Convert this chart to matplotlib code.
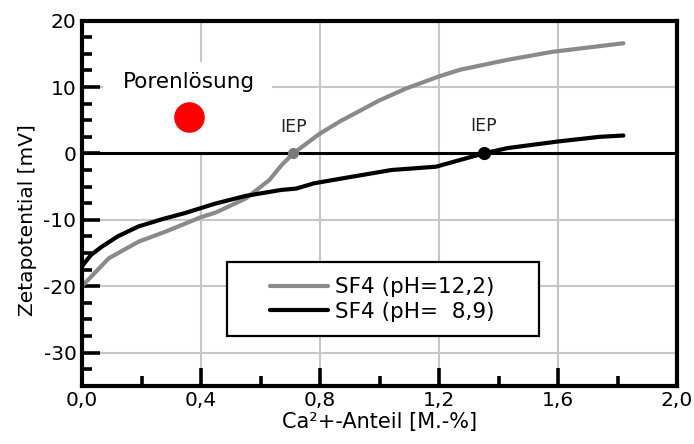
import matplotlib
matplotlib.use("Agg")
import matplotlib.pyplot as plt
from matplotlib.patches import Rectangle
from matplotlib.ticker import MultipleLocator, FuncFormatter

plt.rcParams['font.family'] = ['DejaVu Sans']

# pH 12.2 series (gray)
x_ph122 = [0.00, 0.09, 0.19, 0.28, 0.40, 0.45, 0.55, 0.63, 0.67, 0.71, 0.80, 0.87,
           1.00, 1.09, 1.20, 1.27, 1.43, 1.58, 1.82]
y_ph122 = [-20.0, -15.8, -13.3, -11.8, -9.6, -8.9, -6.8, -4.0, -1.8, 0.0, 3.0, 4.9,
           8.0, 9.8, 11.6, 12.6, 14.1, 15.3, 16.6]

# pH 8.9 series (black)
x_ph89 = [0.00, 0.03, 0.065, 0.12, 0.19, 0.27, 0.345, 0.445, 0.55, 0.67, 0.72, 0.78,
          0.87, 1.04, 1.19, 1.27, 1.35, 1.43, 1.60, 1.74, 1.82]
y_ph89 = [-17.0, -15.3, -14.1, -12.5, -11.0, -9.9, -9.0, -7.6, -6.4, -5.5, -5.3, -4.5,
          -3.8, -2.5, -2.0, -1.0, 0.0, 0.8, 1.8, 2.5, 2.7]

iep_x = [0.71, 1.35]
iep_y = [0.0, 0.0]
pore_x = [0.36]
pore_y = [5.5]

labels = ["SF4 (pH=12,2)", "SF4 (pH=  8,9)"]
x_ticks = [0.0, 0.4, 0.8, 1.2, 1.6, 2.0]
y_ticks = [-30, -20, -10, 0, 10, 20]

fig = plt.figure(figsize=(6.94, 4.44), dpi=100)
ax = fig.add_axes([0.1182, 0.1313, 0.8573, 0.8221])

ax.set_xlim(0, 2.0)
ax.set_ylim(-35, 20)

# grid
for xv in [0.4, 0.8, 1.2, 1.6]:
    ax.axvline(xv, color='#c6c6c6', lw=1.5, zorder=0.5)
for yv in [10, -10, -20, -30]:
    ax.axhline(yv, color='#c6c6c6', lw=1.5, zorder=0.5)

# white box behind annotation
ax.add_patch(Rectangle((0.07, 0.0), 0.57, 13.8, facecolor='white', edgecolor='none', zorder=0.8))

ax.axhline(0, color='black', lw=2.2, zorder=2)

l1, = ax.plot(x_ph122, y_ph122, color='#8a8a8a', lw=3.0, zorder=3,
              solid_capstyle='round', solid_joinstyle='round')
l2, = ax.plot(x_ph89, y_ph89, color='black', lw=3.0, zorder=3,
              solid_capstyle='round', solid_joinstyle='round')

ax.plot(iep_x[0], iep_y[0], 'o', color='#7a7a7a', ms=7, zorder=4)
ax.plot(iep_x[1], iep_y[1], 'o', color='black', ms=8.5, zorder=4)
ax.text(iep_x[0], 4.0, "IEP", ha='center', va='center', fontsize=12.5, color='#222222', zorder=5)
ax.text(iep_x[1], 4.1, "IEP", ha='center', va='center', fontsize=12.5, color='#222222', zorder=5)

ax.plot(pore_x, pore_y, 'o', color='#ff0000', ms=21, zorder=4)
ax.text(0.36, 10.7, "Porenlösung", ha='center', va='center', fontsize=15.5, color='black', zorder=5)

# legend box
ax.add_patch(Rectangle((0.243, 0.136), 0.525, 0.202, transform=ax.transAxes,
                       facecolor='white', edgecolor='black', lw=1.6, zorder=6))
leg = ax.legend([l1, l2], labels, loc='center left', bbox_to_anchor=(0.316, 0.236),
                frameon=False, fontsize=15.5, handlelength=2.7, handletextpad=0.33,
                labelspacing=0.2, borderpad=0, borderaxespad=0)
leg.set_zorder(7)

# ticks
ax.xaxis.set_major_locator(MultipleLocator(0.4))
ax.xaxis.set_minor_locator(MultipleLocator(0.2))
ax.yaxis.set_major_locator(MultipleLocator(10))
ax.yaxis.set_minor_locator(MultipleLocator(2.5))
ax.set_xticks(x_ticks)
ax.set_yticks(y_ticks)
ax.xaxis.set_major_formatter(FuncFormatter(lambda v, p: f"{v:.1f}".replace('.', ',')))
ax.yaxis.set_major_formatter(FuncFormatter(lambda v, p: f"{int(round(v))}"))
ax.tick_params(which='major', direction='in', length=13, width=2.6, labelsize=14.5, pad=4,
               top=False, right=False)
ax.tick_params(which='minor', direction='in', length=7.5, width=2.6, top=False, right=False)

for s in ax.spines.values():
    s.set_linewidth(3.0)
    s.set_zorder(8)

ax.set_xlabel("Ca²+-Anteil [M.-%]", fontsize=15)
ax.set_ylabel("Zetapotential [mV]", fontsize=14.5)
ax.xaxis.set_label_coords(0.5, -0.072)
ax.yaxis.set_label_coords(-0.075, 0.454)

fig.savefig("out.png", dpi=100)
